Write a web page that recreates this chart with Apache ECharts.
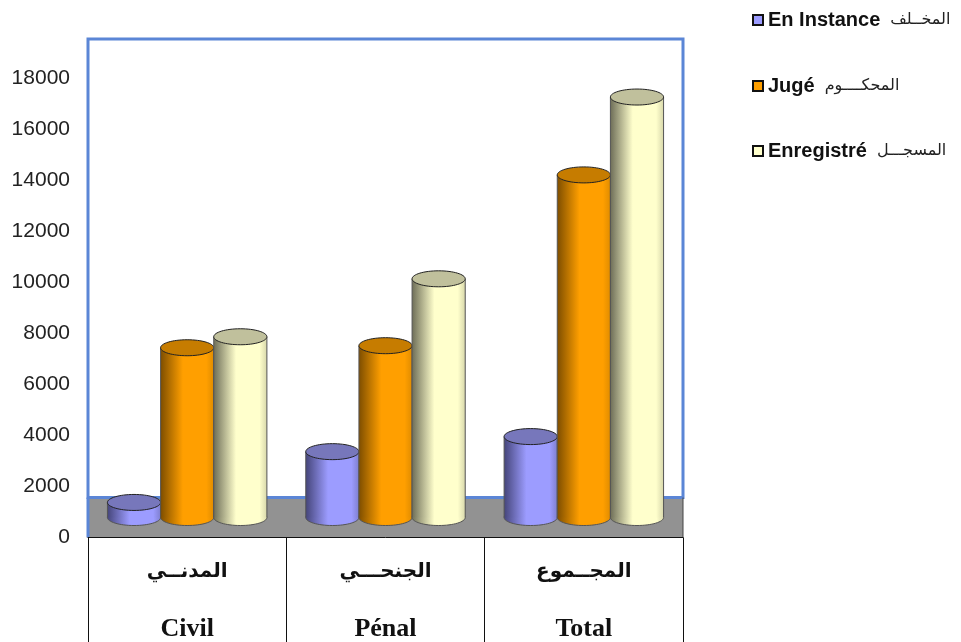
<!DOCTYPE html>
<html>
<head>
<meta charset="utf-8">
<style>
  html, body { margin: 0; padding: 0; background: #fff; }
  #chart { width: 961px; height: 642px; }
</style>
<script src="https://cdn.jsdelivr.net/npm/echarts@6/dist/echarts.min.js"></script>
</head>
<body>
<div id="chart"></div>
<script>
const categoriesAr = ['المدنــي', 'الجنحـــي', 'المجــموع']
const categoriesFr = ['Civil', 'Pénal', 'Total']
const enInstance = [590, 2580, 3170]
const juge = [6650, 6730, 13420]
const enregistre = [7080, 9350, 16470]
const floorTop = 1565

// the bars stand in the middle of the 3D floor, so they get a shifted hidden axis
const axisMax = 19526
const barAxisMin = -783
const barAxisMax = 18743

const palette = [
  { name: 'En Instance', ar: 'المخــلف', edge: '#45457a', light: '#9c9cff', rim: '#7f7fd0', top: '#7777bb' },
  { name: 'Jugé', ar: 'المحكــــوم', edge: '#7e4e00', light: '#ff9f00', rim: '#e08c00', top: '#c67c00' },
  { name: 'Enregistré', ar: 'المسجـــل', edge: '#6e6e58', light: '#ffffcc', rim: '#d8d8ac', top: '#c0c09c' },
]

function cylinder(slot) {
  const c = palette[slot]
  return (params, api) => {
    const cat = api.value(0)
    const topPt = api.coord([cat, api.value(1)])
    const basePt = api.coord([cat, 0])
    const band = api.size([1, 0])[0]
    const w = band * 0.268
    const left = topPt[0] - w * 1.5 + w * slot
    const rx = w / 2
    const ry = 8
    const fill = {
      type: 'linear', x: 0, y: 0, x2: 1, y2: 0,
      colorStops: [
        { offset: 0, color: c.edge },
        { offset: 0.42, color: c.light },
        { offset: 0.86, color: c.light },
        { offset: 1, color: c.rim },
      ],
    }
    const line = { stroke: '#555', lineWidth: 1 }
    const cx = left + rx
    return {
      type: 'group',
      children: [
        { type: 'ellipse', shape: { cx, cy: basePt[1], rx, ry }, style: { fill, ...line } },
        { type: 'rect', shape: { x: left, y: topPt[1], width: w, height: basePt[1] - topPt[1] }, style: { fill } },
        { type: 'line', shape: { x1: left, y1: topPt[1], x2: left, y2: basePt[1] }, style: line },
        { type: 'line', shape: { x1: left + w, y1: topPt[1], x2: left + w, y2: basePt[1] }, style: line },
        { type: 'ellipse', shape: { cx, cy: topPt[1], rx, ry }, style: { fill: c.top, stroke: '#222', lineWidth: 1 } },
      ],
    }
  }
}

function barSeries(slot, values) {
  return {
    name: palette[slot].name,
    type: 'custom',
    yAxisIndex: 1,
    z: 5,
    clip: false,
    itemStyle: { color: palette[slot].light },
    encode: { x: 0, y: 1 },
    data: values.map((v, i) => [i, v]),
    renderItem: cylinder(slot),
  }
}

// back wall frame and grey floor
function renderWalls(params, api) {
  const cs = params.coordSys
  const p = api.coord([0, api.value(1)])
  const o = api.coord([0, 0])
  const blue = { stroke: '#5b86d6', lineWidth: 3 }
  return {
    type: 'group',
    children: [
      { type: 'rect', shape: { x: cs.x, y: p[1], width: cs.width, height: o[1] - p[1] }, style: { fill: '#929292' } },
      { type: 'rect', shape: { x: cs.x, y: cs.y, width: cs.width, height: p[1] - cs.y }, style: { fill: 'none', ...blue } },
      { type: 'line', shape: { x1: cs.x, y1: p[1], x2: cs.x, y2: o[1] }, style: blue },
      { type: 'line', shape: { x1: cs.x + cs.width, y1: p[1], x2: cs.x + cs.width, y2: o[1] }, style: { stroke: '#444', lineWidth: 1 } },
    ],
  }
}

const chart = echarts.init(document.getElementById('chart'))
chart.setOption({
  animation: false,
  grid: { left: 88, right: 278, top: 39, bottom: 104 },
  legend: [0, 1, 2].map(i => ({
    data: [palette[i].name],
    orient: 'vertical',
    left: 747,
    top: [5, 71, 136][i],
    icon: 'rect',
    itemWidth: 10,
    itemHeight: 10,
    itemGap: 0,
    itemStyle: { borderColor: '#111', borderWidth: 2 },
    formatter: n => `{fr|${n}}   {ar|${palette[i].ar}}`,
    textStyle: {
      rich: {
        fr: { fontFamily: 'Liberation Sans', fontWeight: 'bold', fontSize: 20, color: '#111' },
        ar: { fontFamily: 'DejaVu Sans', fontSize: 16, color: '#222' },
      },
    },
  })),
  xAxis: {
    type: 'category',
    data: categoriesFr,
    z: 6,
    axisLine: { lineStyle: { color: '#111', width: 1 } },
    axisTick: { show: true, length: 105, interval: 0, lineStyle: { color: '#111', width: 1 } },
    splitLine: { show: false },
    axisLabel: {
      interval: 0,
      margin: 6,
      formatter: (v, i) => `{ar|${categoriesAr[i]}}\n{fr|${v}}`,
      rich: {
        ar: { fontFamily: 'DejaVu Sans', fontWeight: 'bold', fontSize: 20, lineHeight: 57, color: '#111' },
        fr: { fontFamily: 'Liberation Serif', fontWeight: 'bold', fontSize: 26, lineHeight: 57, color: '#111' },
      },
    },
  },
  yAxis: [
    {
      type: 'value', min: 0, max: axisMax, interval: 2000,
      axisLine: { show: false },
      axisTick: { show: false },
      splitLine: { show: false },
      axisLabel: {
        margin: 18, showMaxLabel: false,
        fontFamily: 'Liberation Sans', fontSize: 21, color: '#222',
        formatter: v => String(v),
      },
    },
    { type: 'value', min: barAxisMin, max: barAxisMax, show: false, splitLine: { show: false } },
  ],
  series: [
    {
      type: 'custom',
      silent: true,
      z: 3,
      clip: false,
      data: [[0, floorTop]],
      encode: { x: 0, y: 1 },
      renderItem: renderWalls,
    },
    barSeries(0, enInstance),
    barSeries(1, juge),
    barSeries(2, enregistre),
  ],
})
</script>
</body>
</html>
